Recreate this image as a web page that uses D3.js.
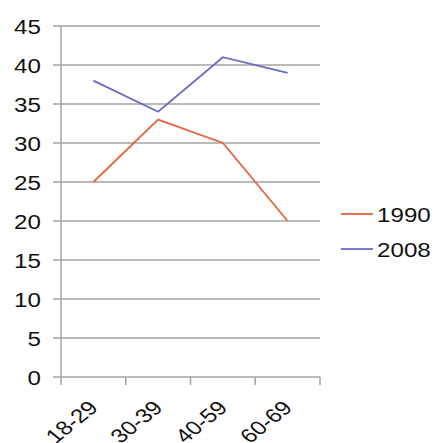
<!DOCTYPE html>
<html><head><meta charset="utf-8">
<script src="https://cdn.jsdelivr.net/npm/d3@7"></script>
<style>body{margin:0;background:#fff}svg{display:block}text{font-family:"Liberation Sans",Arial,sans-serif}</style>
</head><body><div id="c"></div>
<script>
const categories = ["18-29","30-39","40-59","60-69"];
const series1990 = [25,33,30,20];
const series2008 = [38,34,41,39];
const seriesNames = ["1990","2008"];
const seriesColors = ["#e5643c","#6a6ac8"];
const yTicks = [0,5,10,15,20,25,30,35,40,45];

const W=436,H=443;
const svg=d3.select("#c").append("svg").attr("width",W).attr("height",H);
const x=d3.scaleBand().domain(categories).range([61,320]);
const y=d3.scaleLinear().domain([0,45]).range([377,26]);
const g=svg.append("g");
g.selectAll("line.grid").data(yTicks).join("line")
 .attr("x1",53).attr("x2",320).attr("y1",d=>y(d)).attr("y2",d=>y(d))
 .attr("stroke","#a3a3a3").attr("stroke-width",1.5);
g.append("line").attr("x1",61).attr("x2",61).attr("y1",y(45)).attr("y2",y(0)+0.5).attr("stroke","#a3a3a3").attr("stroke-width",1.5);
g.selectAll("text.yl").data(yTicks).join("text")
 .attr("transform",d=>`translate(41,${y(d)+7.5}) scale(1.24,1)`)
 .attr("text-anchor","end").attr("font-size",19.5).attr("fill","#111").text(d=>d);
const xt=categories.map(c=>x(c)).concat([320]);
g.selectAll("line.xt").data(xt).join("line")
 .attr("x1",d=>d).attr("x2",d=>d).attr("y1",377).attr("y2",385)
 .attr("stroke","#a3a3a3").attr("stroke-width",1.5);
g.selectAll("text.xl").data(categories).join("text")
 .attr("text-anchor","end").attr("font-size",19.5).attr("fill","#111")
 .attr("transform",d=>`translate(${x(d)+x.bandwidth()/2+6},409) scale(1.24,1) rotate(-45)`)
 .text(d=>d);
const line=d3.line().x((d,i)=>x(categories[i])+x.bandwidth()/2).y(d=>y(d));
[series1990,series2008].forEach((s,k)=>{
 g.append("path").datum(s).attr("d",line).attr("fill","none")
  .attr("stroke",seriesColors[k]).attr("stroke-width",1.8);
});
const ly=[214,249];
seriesNames.forEach((n,k)=>{
 g.append("line").attr("x1",341).attr("x2",373).attr("y1",ly[k]).attr("y2",ly[k])
  .attr("stroke",seriesColors[k]).attr("stroke-width",1.8);
 g.append("text").attr("transform",`translate(377,${ly[k]+8}) scale(1.24,1)`)
  .attr("font-size",19.5).attr("fill","#111").text(n);
});
</script></body></html>
